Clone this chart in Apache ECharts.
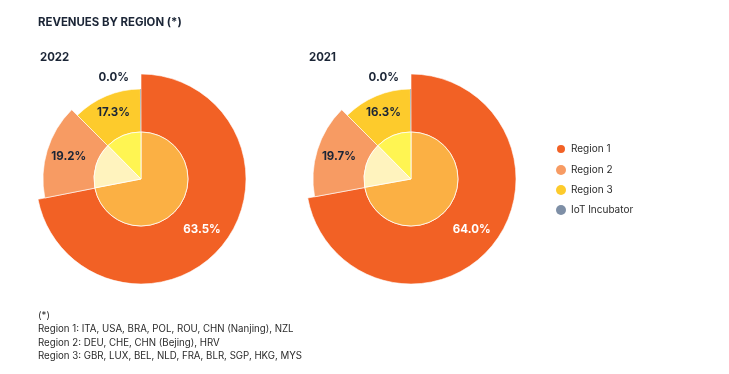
<!DOCTYPE html>
<html>
<head>
<meta charset="utf-8">
<script src="https://cdn.jsdelivr.net/npm/echarts@6/dist/echarts.min.js"></script>
<style>html,body{margin:0;padding:0;background:#fff;}#c{width:729px;height:374px;}</style>
</head>
<body>
<div id="c"></div>
<script>
// ---- data ----
var regions = ['Region 1', 'Region 2', 'Region 3', 'IoT Incubator'];
var years = ['2022', '2021'];
// percentage labels printed on the chart
var labels2022 = ['63.5%', '19.2%', '17.3%', '0.0%'];
var labels2021 = ['64.0%', '19.7%', '16.3%', '0.0%'];
// slice shares (angular extent as drawn in the reference)
var share2022 = [71.9, 15.6, 12.4, 0.1];
var share2021 = [72.1, 15.4, 12.4, 0.1];
var footnotes = [
  '(*)',
  'Region 1: ITA, USA, BRA, POL, ROU, CHN (Nanjing), NZL',
  'Region 2: DEU, CHE, CHN (Bejing), HRV',
  'Region 3: GBR, LUX, BEL, NLD, FRA, BLR, SGP, HKG, MYS'
];

// ---- styles ----
var outerColors = ['#F26125', '#F79B63', '#FDCB2C', '#7E8FA6'];
var innerColors = ['#FBB044', '#FFF3BE', '#FFF552'];
var outerRadius = [105, 98, 90, 90];
var innerR = 47;
var FONT = 'Inter, "DejaVu Sans", sans-serif';
var DARK = '#1B2536';
var centers = [[141, 179], [411, 179]];
var labelColors = ['#ffffff', DARK, DARK, DARK];

var series = [];
[share2022, share2021].forEach(function (share, y) {
  var lbls = y === 0 ? labels2022 : labels2021;
  for (var i = 0; i < regions.length; i++) {
    var data = regions.map(function (name, j) {
      if (j === i) {
        var item = {
          name: name, value: share[j],
          itemStyle: { color: outerColors[j], borderColor: '#fff', borderWidth: j === 3 ? 0 : 0.6 },
          label: {
            show: true, formatter: lbls[j], position: 'inside',
            color: labelColors[j], fontFamily: FONT, fontWeight: 'bold', fontSize: 11.5
          }
        };
        if (j === 3) {
          item.label.offset = [-27, -30];
          item.label.color = DARK;
        }
        return item;
      }
      return { name: name, value: share[j], itemStyle: { color: 'rgba(0,0,0,0)', borderWidth: 0 }, label: { show: false } };
    });
    series.push({
      type: 'pie', silent: true, animation: false,
      center: centers[y], radius: [innerR, outerRadius[i]],
      startAngle: 90, clockwise: true, avoidLabelOverlap: false,
      labelLine: { show: false },
      emphasis: { disabled: true },
      data: data
    });
  }
  series.push({
    type: 'pie', silent: true, animation: false,
    center: centers[y], radius: [0, innerR],
    startAngle: 90, clockwise: true,
    label: { show: false }, labelLine: { show: false },
    emphasis: { disabled: true },
    data: regions.slice(0, 3).map(function (name, j) {
      return { name: name, value: share[j], itemStyle: { color: innerColors[j], borderColor: '#fff', borderWidth: 0.8 } };
    })
  });
});

var graphics = [
  { type: 'text', left: 38, top: 17, style: { text: 'REVENUES BY REGION (*)', font: 'bold 11.4px ' + FONT, fill: DARK } },
  { type: 'text', left: 40, top: 52, style: { text: years[0], font: 'bold 11.4px ' + FONT, fill: DARK } },
  { type: 'text', left: 309, top: 52, style: { text: years[1], font: 'bold 11.4px ' + FONT, fill: DARK } }
];
footnotes.forEach(function (t, k) {
  graphics.push({ type: 'text', left: 38, top: 311 + k * 13.5, style: { text: t, font: '9.7px ' + FONT, fill: '#2b2b2b' } });
});

var chart = echarts.init(document.getElementById('c'), null, { renderer: 'canvas' });
chart.setOption({
  backgroundColor: '#ffffff',
  animation: false,
  legend: {
    orient: 'vertical', left: 550, top: 138, itemGap: 10,
    icon: 'circle', itemWidth: 10, itemHeight: 10,
    selectedMode: false,
    textStyle: { fontFamily: FONT, fontSize: 10, color: '#2b2b2b' },
    data: regions.map(function (n, i) { return { name: n, itemStyle: { color: outerColors[i] } }; })
  },
  graphic: graphics,
  series: series
});
</script>
</body>
</html>
